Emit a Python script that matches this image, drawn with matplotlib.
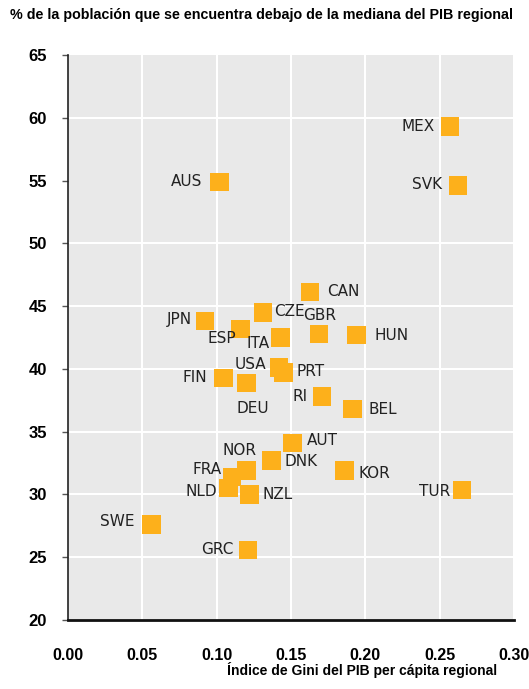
import matplotlib
matplotlib.use('Agg')
import matplotlib.pyplot as plt

countries = ["MEX", "SVK", "AUS", "CAN", "CZE", "GBR", "JPN", "ESP", "ITA", "HUN",
             "USA", "PRT", "FIN", "DEU", "RI", "BEL", "AUT", "DNK", "KOR", "NOR",
             "FRA", "NLD", "NZL", "SWE", "GRC", "TUR"]
gini = [0.257, 0.2625, 0.102, 0.163, 0.131, 0.169, 0.092, 0.116, 0.143, 0.194,
        0.142, 0.145, 0.1045, 0.120, 0.171, 0.1915, 0.151, 0.137, 0.186, 0.120,
        0.1105, 0.108, 0.122, 0.0563, 0.121, 0.265]
below_median = [59.3, 54.6, 54.9, 46.1, 44.5, 42.8, 43.8, 43.2, 42.5, 42.7,
                40.1, 39.7, 39.3, 38.9, 37.8, 36.8, 34.1, 32.7, 31.9, 31.9,
                31.4, 30.5, 30.0, 27.6, 25.6, 30.35]

xticks = [0.00, 0.05, 0.10, 0.15, 0.20, 0.25, 0.30]
yticks = [20, 25, 30, 35, 40, 45, 50, 55, 60, 65]

# label placement: offset in pixels from marker centre, horizontal alignment
label_pos = {
    "MEX": (-15, 0, "right"), "SVK": (-16, 1, "right"), "AUS": (-17, 0, "right"),
    "CAN": (17, 1, "left"), "CZE": (11, 1, "left"), "GBR": (-16, 18, "left"),
    "JPN": (-13, 2, "right"), "ESP": (-4, -10, "right"), "ITA": (-11, -6, "right"),
    "HUN": (18, -1, "left"), "USA": (-13, 3, "right"), "PRT": (13, 1, "left"),
    "FIN": (-16, 0, "right"), "DEU": (6, -26, "center"), "RI": (-15, 0, "right"),
    "BEL": (16, 0, "left"), "AUT": (14, 2, "left"), "DNK": (13, -1, "left"),
    "KOR": (14, -3, "left"), "NOR": (-7, 20, "center"), "FRA": (-11, 7, "right"),
    "NLD": (-11, -3, "right"), "NZL": (13, 0, "left"), "SWE": (-17, 3, "right"),
    "GRC": (-14, 0, "right"), "TUR": (-12, -1, "right"),
}

fig = plt.figure(figsize=(5.29, 6.89), dpi=100)
ax = fig.add_axes([0.1285, 0.1001, 0.8430, 0.8201])
ax.set_facecolor("#e9e9e9")

ax.set_xlim(0, 0.30)
ax.set_ylim(20, 65)
ax.set_xticks(xticks)
ax.set_yticks(yticks)
ax.set_xticklabels(["{:.2f}".format(v) for v in xticks])
ax.set_yticklabels([str(v) for v in yticks])

for v in xticks[1:]:
    ax.axvline(v, color="white", lw=1.5, zorder=1)
for v in yticks[1:]:
    if v in (55, 65):
        continue
    ax.axhline(v, color="white", lw=1.5, zorder=1)

ax.scatter(gini, below_median, marker="s", s=175, color="#fdb01b",
           edgecolors="none", zorder=3)

for name, x, y in zip(countries, gini, below_median):
    dx, dy, ha = label_pos[name]
    ax.annotate(name, (x, y), xytext=(dx, dy), textcoords="offset pixels",
                ha=ha, va="center", fontsize=11, color="#222222",
                family="DejaVu Sans", zorder=4)

for s in ["top", "right"]:
    ax.spines[s].set_visible(False)
ax.spines["left"].set_color("#222222")
ax.spines["left"].set_linewidth(1.2)
ax.spines["bottom"].set_color("#111111")
ax.spines["bottom"].set_linewidth(2)

ax.tick_params(axis="y", length=4, width=1, color="#555555", pad=11,
               labelsize=12)
ax.tick_params(axis="x", length=0, pad=20, labelsize=11.5)
for lab in ax.get_xticklabels() + ax.get_yticklabels():
    lab.set_fontweight("bold")
    lab.set_family("Liberation Sans")

fig.text(0.019, 0.978, "% de la población que se encuentra debajo de la mediana del PIB regional",
         ha="left", va="center", fontsize=10.3, fontweight="bold",
         family="Liberation Sans")
fig.text(0.430, 0.027, "Índice de Gini del PIB per cápita regional",
         ha="left", va="center", fontsize=10, fontweight="bold",
         family="Liberation Sans")

fig.savefig("out.png", dpi=100)
